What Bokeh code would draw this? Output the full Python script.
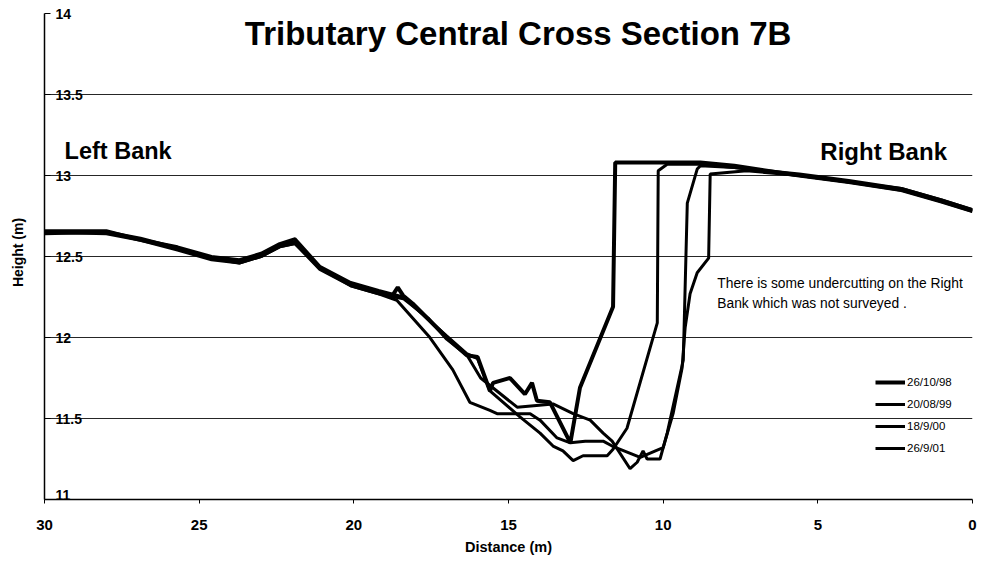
from bokeh.plotting import figure
from bokeh.models import Range1d, FixedTicker, Label, Legend, LegendItem
from bokeh.embed import file_html
from bokeh.resources import INLINE

FONT = "Liberation Sans"

title_text = "Tributary Central Cross Section 7B"
x_ticks = [30, 25, 20, 15, 10, 5, 0]
y_ticks = [11, 11.5, 12, 12.5, 13, 13.5, 14]
y_tick_labels = ["11", "11.5", "12", "12.5", "13", "13.5", "14"]
grid_ticks = [11.5, 12, 12.5, 13, 13.5]
series_names = ["26/10/98", "20/08/99", "18/9/00", "26/9/01"]

d1 = [30, 28, 26.9, 25.7, 24.6, 23.7, 23.0, 22.4, 21.9, 21.1, 20.1, 19.2, 18.75, 18.58, 18.41, 18.1,
      17.0, 16.35, 16.0, 15.6, 15.5, 14.95, 14.47, 14.24, 14.08, 13.66, 13.0, 12.69, 11.62, 11.55,
      8.8, 7.7, 5.6, 4.0, 2.3, 1.0, 0]
h1 = [12.65, 12.65, 12.61, 12.55, 12.49, 12.47, 12.51, 12.57, 12.59, 12.43, 12.33, 12.28, 12.26, 12.31,
      12.26, 12.21, 12.00, 11.89, 11.88, 11.67, 11.72, 11.75, 11.65, 11.72, 11.61, 11.60, 11.35, 11.69,
      12.19, 13.08, 13.08, 13.06, 13.00, 12.96, 12.91, 12.84, 12.78]

d2 = [30, 28, 27.0, 25.7, 24.6, 23.7, 23.0, 22.4, 21.9, 21.1, 20.1, 19.2, 18.4, 17.0, 16.35, 16.0,
      15.6, 14.63, 13.98, 13.56, 13.24, 12.91, 12.59, 11.81, 11.62, 11.17, 10.19, 10.16, 9.87, 8.8,
      7.7, 5.6, 4.0, 2.3, 1.0, 0]
h2 = [12.66, 12.66, 12.61, 12.56, 12.50, 12.48, 12.52, 12.58, 12.61, 12.44, 12.34, 12.29, 12.25, 12.01,
      11.90, 11.87, 11.67, 11.51, 11.41, 11.33, 11.30, 11.24, 11.27, 11.27, 11.31, 11.44, 12.09, 13.03,
      13.07, 13.07, 13.05, 13.00, 12.96, 12.92, 12.85, 12.79]

d3 = [30, 28, 26.9, 25.7, 24.6, 23.7, 23.0, 22.4, 21.9, 21.1, 20.1, 19.2, 18.4, 17.6, 17.0, 16.34,
      15.9, 14.72, 13.56, 12.91, 12.36, 11.94, 11.65, 11.07, 10.84, 10.65, 10.52, 10.10, 9.87, 9.35,
      9.22, 8.9, 8.8, 7.7, 5.6, 4.0, 2.3, 1.0, 0]
h3 = [12.64, 12.65, 12.60, 12.55, 12.49, 12.46, 12.50, 12.56, 12.58, 12.43, 12.32, 12.27, 12.24, 12.12,
      11.99, 11.89, 11.75, 11.57, 11.59, 11.53, 11.49, 11.41, 11.36, 11.19, 11.23, 11.30, 11.25, 11.25,
      11.41, 11.86, 12.83, 13.04, 13.06, 13.05, 13.01, 12.97, 12.92, 12.85, 12.79]

d4 = [30, 28, 26.9, 25.7, 24.6, 23.7, 23.0, 22.4, 21.9, 21.1, 20.1, 19.2, 18.61, 17.54, 16.80, 16.25,
      15.6, 15.37, 14.3, 13.98, 13.43, 13.0, 12.52, 11.94, 11.65, 10.74, 10.25, 10.0, 9.68, 9.39,
      9.29, 9.13, 8.9, 8.53, 8.48, 7.3, 5.6, 4.0, 2.3, 1.0, 0]
h4 = [12.65, 12.64, 12.60, 12.54, 12.48, 12.46, 12.50, 12.56, 12.58, 12.42, 12.32, 12.27, 12.23, 12.00,
      11.80, 11.60, 11.55, 11.53, 11.53, 11.49, 11.38, 11.35, 11.36, 11.36, 11.33, 11.26, 11.30, 11.32,
      11.53, 11.81, 12.06, 12.27, 12.40, 12.49, 13.01, 13.03, 13.00, 12.96, 12.91, 12.84, 12.78]

# a little room above 14 so the inside tick label "14" is not clipped
p = figure(width=980, height=557, x_range=Range1d(30, 0), y_range=Range1d(11, 14.05),
           output_backend="svg", toolbar_location=None,
           min_border_left=44, min_border_right=8, min_border_top=5, min_border_bottom=58)
p.outline_line_color = None
p.background_fill_color = "white"
p.border_fill_color = "white"

# x axis
p.xaxis.ticker = FixedTicker(ticks=x_ticks)
p.xaxis.axis_label = "Distance (m)"
p.xaxis.axis_label_text_font = FONT
p.xaxis.axis_label_text_font_size = "14.5px"
p.xaxis.axis_label_text_font_style = "bold"
p.xaxis.axis_label_text_color = "black"
p.xaxis.axis_label_standoff = 6
p.xaxis.major_label_text_font = FONT
p.xaxis.major_label_text_font_size = "15px"
p.xaxis.major_label_text_font_style = "bold"
p.xaxis.major_label_text_color = "black"
p.xaxis.major_label_standoff = 16
p.xaxis.major_tick_in = 0
p.xaxis.major_tick_out = 4
p.xaxis.major_tick_line_color = "black"
p.xaxis.minor_tick_line_color = None
p.xaxis.axis_line_color = "black"
p.xaxis.axis_line_width = 1.5
p.xgrid.visible = False

# y axis (labels drawn inside the frame)
p.yaxis.ticker = FixedTicker(ticks=y_ticks)
p.yaxis.bounds = (y_ticks[0], y_ticks[-1])
p.yaxis.major_label_overrides = {t: "" for t in y_ticks}
p.yaxis.major_label_standoff = 0
p.yaxis.axis_label = "Height (m)"
p.yaxis.axis_label_text_font = FONT
p.yaxis.axis_label_text_font_size = "14px"
p.yaxis.axis_label_text_font_style = "bold"
p.yaxis.axis_label_text_color = "black"
p.yaxis.axis_label_standoff = 19
p.yaxis.major_tick_in = 6
p.yaxis.major_tick_out = 0
p.yaxis.major_tick_line_color = "black"
p.yaxis.minor_tick_line_color = None
p.yaxis.axis_line_color = "black"
p.yaxis.axis_line_width = 1.5
p.ygrid.ticker = FixedTicker(ticks=grid_ticks)
p.ygrid.grid_line_color = "black"
p.ygrid.grid_line_alpha = 0.85
p.ygrid.grid_line_width = 1

for yv, lab in zip(y_ticks, y_tick_labels):
    p.add_layout(Label(x=x_ticks[0], y=yv, text=lab, x_offset=11,
                       text_align="left",
                       text_baseline="bottom" if yv == y_ticks[0] else "middle",
                       text_font=FONT, text_font_size="14px", text_font_style="bold",
                       text_color="black"))

renderers = []
for d, h, w in [(d1, h1, 4.0), (d2, h2, 3.0), (d3, h3, 3.0), (d4, h4, 3.0)]:
    r = p.line(d, h, line_color="black", line_width=w)
    renderers.append(r)

legend = Legend(items=[LegendItem(label=n, renderers=[r]) for n, r in zip(series_names, renderers)],
                location=(831, 41))
legend.background_fill_alpha = 0
legend.border_line_color = None
legend.label_text_font = FONT
legend.label_text_font_size = "11.5px"
legend.label_text_color = "black"
legend.glyph_width = 30
legend.glyph_height = 20
legend.label_height = 20
legend.spacing = 2
legend.padding = 0
legend.margin = 0
legend.label_standoff = 2
p.add_layout(legend)

p.add_layout(Label(x=14.69, y=13.88, text=title_text, text_align="center", text_baseline="middle",
                   text_font=FONT, text_font_size="33px", text_font_style="bold", text_color="black"))
p.add_layout(Label(x=29.35, y=13.15, text="Left Bank", text_align="left", text_baseline="middle",
                   text_font=FONT, text_font_size="23.5px", text_font_style="bold", text_color="black"))
p.add_layout(Label(x=4.92, y=13.15, text="Right Bank", text_align="left", text_baseline="middle",
                   text_font=FONT, text_font_size="24px", text_font_style="bold", text_color="black"))
p.add_layout(Label(x=8.25, y=12.333, text="There is some undercutting on the Right",
                   text_align="left", text_baseline="middle", text_font=FONT, text_font_size="13.8px",
                   text_color="black"))
p.add_layout(Label(x=8.25, y=12.21, text=" Bank which was not surveyed .",
                   text_align="left", text_baseline="middle", text_font=FONT, text_font_size="13.8px",
                   text_color="black"))

open("out.html", "w").write(file_html(p, INLINE))
